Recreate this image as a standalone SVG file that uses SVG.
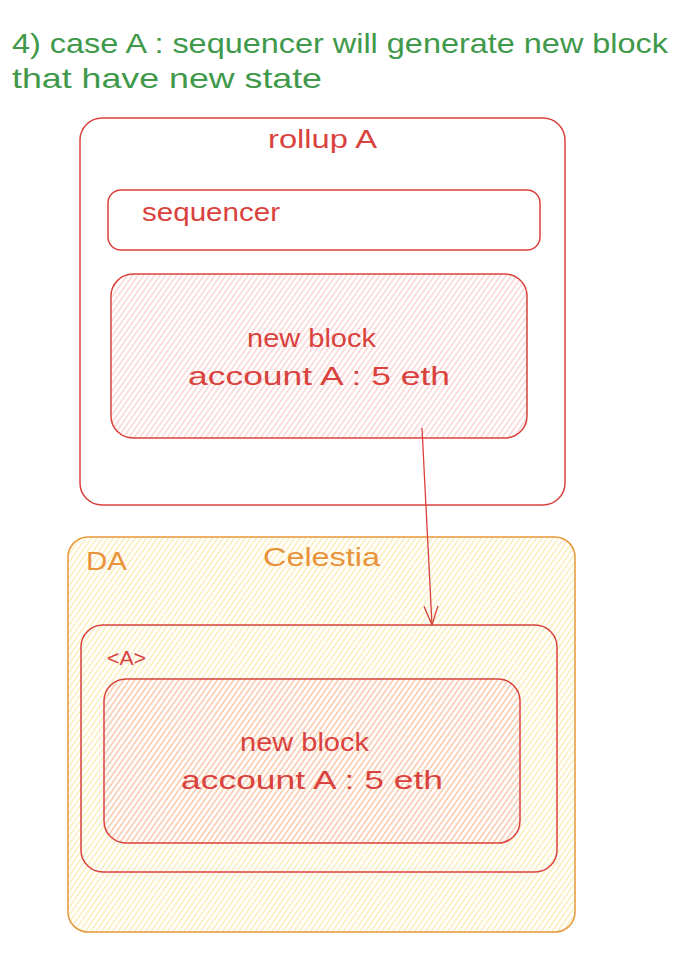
<svg xmlns="http://www.w3.org/2000/svg" width="676" height="960" viewBox="0 0 676 960">
  <style>
    .t { font-family: "Liberation Sans", "DejaVu Sans", sans-serif; }
    .green { fill: #40994a; font-size: 28px; }
    .red { fill: #d9423d; font-size: 25px; }
    .orange { fill: #e8923a; font-size: 26px; }
    .boxR { fill: none; stroke: #d9423d; stroke-width: 1.5; }
    .boxO { stroke: #e8963a; stroke-width: 1.5; }
  </style>
  <defs>
    <pattern id="hPink" patternUnits="userSpaceOnUse" width="4.5" height="10" patternTransform="rotate(35)">
      <line x1="1" y1="0" x2="1" y2="10" stroke="#f5a8a8" stroke-width="1" stroke-opacity="0.75"/>
    </pattern>
    <pattern id="hYellow" patternUnits="userSpaceOnUse" width="4.5" height="10" patternTransform="rotate(35)">
      <line x1="1" y1="0" x2="1" y2="10" stroke="#f7dc7a" stroke-width="1" stroke-opacity="0.75"/>
    </pattern>
    <marker id="arrow" viewBox="0 0 20 20" refX="19" refY="10" markerWidth="20" markerHeight="20" markerUnits="userSpaceOnUse" orient="auto">
      <path d="M0,3 L19,10 L0,17" fill="none" stroke="#d9423d" stroke-width="1.3"/>
    </marker>
  </defs>
  <rect width="676" height="960" fill="#ffffff"/>

  <g id="title">
    <text class="t green" x="12" y="53" textLength="656" lengthAdjust="spacingAndGlyphs">4) case A : sequencer will generate new block</text>
    <text class="t green" x="12" y="88" textLength="310" lengthAdjust="spacingAndGlyphs">that have new state</text>
  </g>

  <g id="rollupA">
    <rect class="boxR" x="80" y="118" width="485" height="387" rx="22"/>
    <text class="t red" x="268" y="148" textLength="109" lengthAdjust="spacingAndGlyphs">rollup A</text>
  </g>

  <g id="sequencer">
    <rect class="boxR" x="108" y="190" width="432" height="60" rx="13"/>
    <text class="t red" x="142" y="221" textLength="138" lengthAdjust="spacingAndGlyphs">sequencer</text>
  </g>

  <g id="newBlockRollup">
    <rect x="111" y="274" width="416" height="164" rx="22" fill="url(#hPink)"/>
    <rect class="boxR" x="111" y="274" width="416" height="164" rx="22"/>
    <text class="t red" x="247" y="347" textLength="129" lengthAdjust="spacingAndGlyphs">new block</text>
    <text class="t red" x="188" y="385" textLength="262" lengthAdjust="spacingAndGlyphs">account A : 5 eth</text>
  </g>

  <g id="DA">
    <rect x="68" y="537" width="507" height="395" rx="20" fill="url(#hYellow)"/>
    <rect class="boxO" x="68" y="537" width="507" height="395" rx="20" fill="none"/>
    <text class="t orange" x="86" y="570" textLength="41" lengthAdjust="spacingAndGlyphs">DA</text>
    <text class="t orange" x="263" y="566" textLength="117" lengthAdjust="spacingAndGlyphs">Celestia</text>
  </g>

  <g id="blobA">
    <rect class="boxR" x="81" y="625" width="476" height="247" rx="22"/>
    <text class="t red" x="107" y="665" style="font-size:20px" textLength="39" lengthAdjust="spacingAndGlyphs">&lt;A&gt;</text>
  </g>

  <g id="newBlockDA">
    <rect x="104" y="679" width="416" height="164" rx="22" fill="url(#hPink)"/>
    <rect class="boxR" x="104" y="679" width="416" height="164" rx="22"/>
    <text class="t red" x="240" y="751" textLength="129" lengthAdjust="spacingAndGlyphs">new block</text>
    <text class="t red" x="181" y="789" textLength="262" lengthAdjust="spacingAndGlyphs">account A : 5 eth</text>
  </g>

  <g id="connectors">
    <path d="M422,428 L432,625" fill="none" stroke="#d9423d" stroke-width="1.3" marker-end="url(#arrow)"/>
  </g>
</svg>
